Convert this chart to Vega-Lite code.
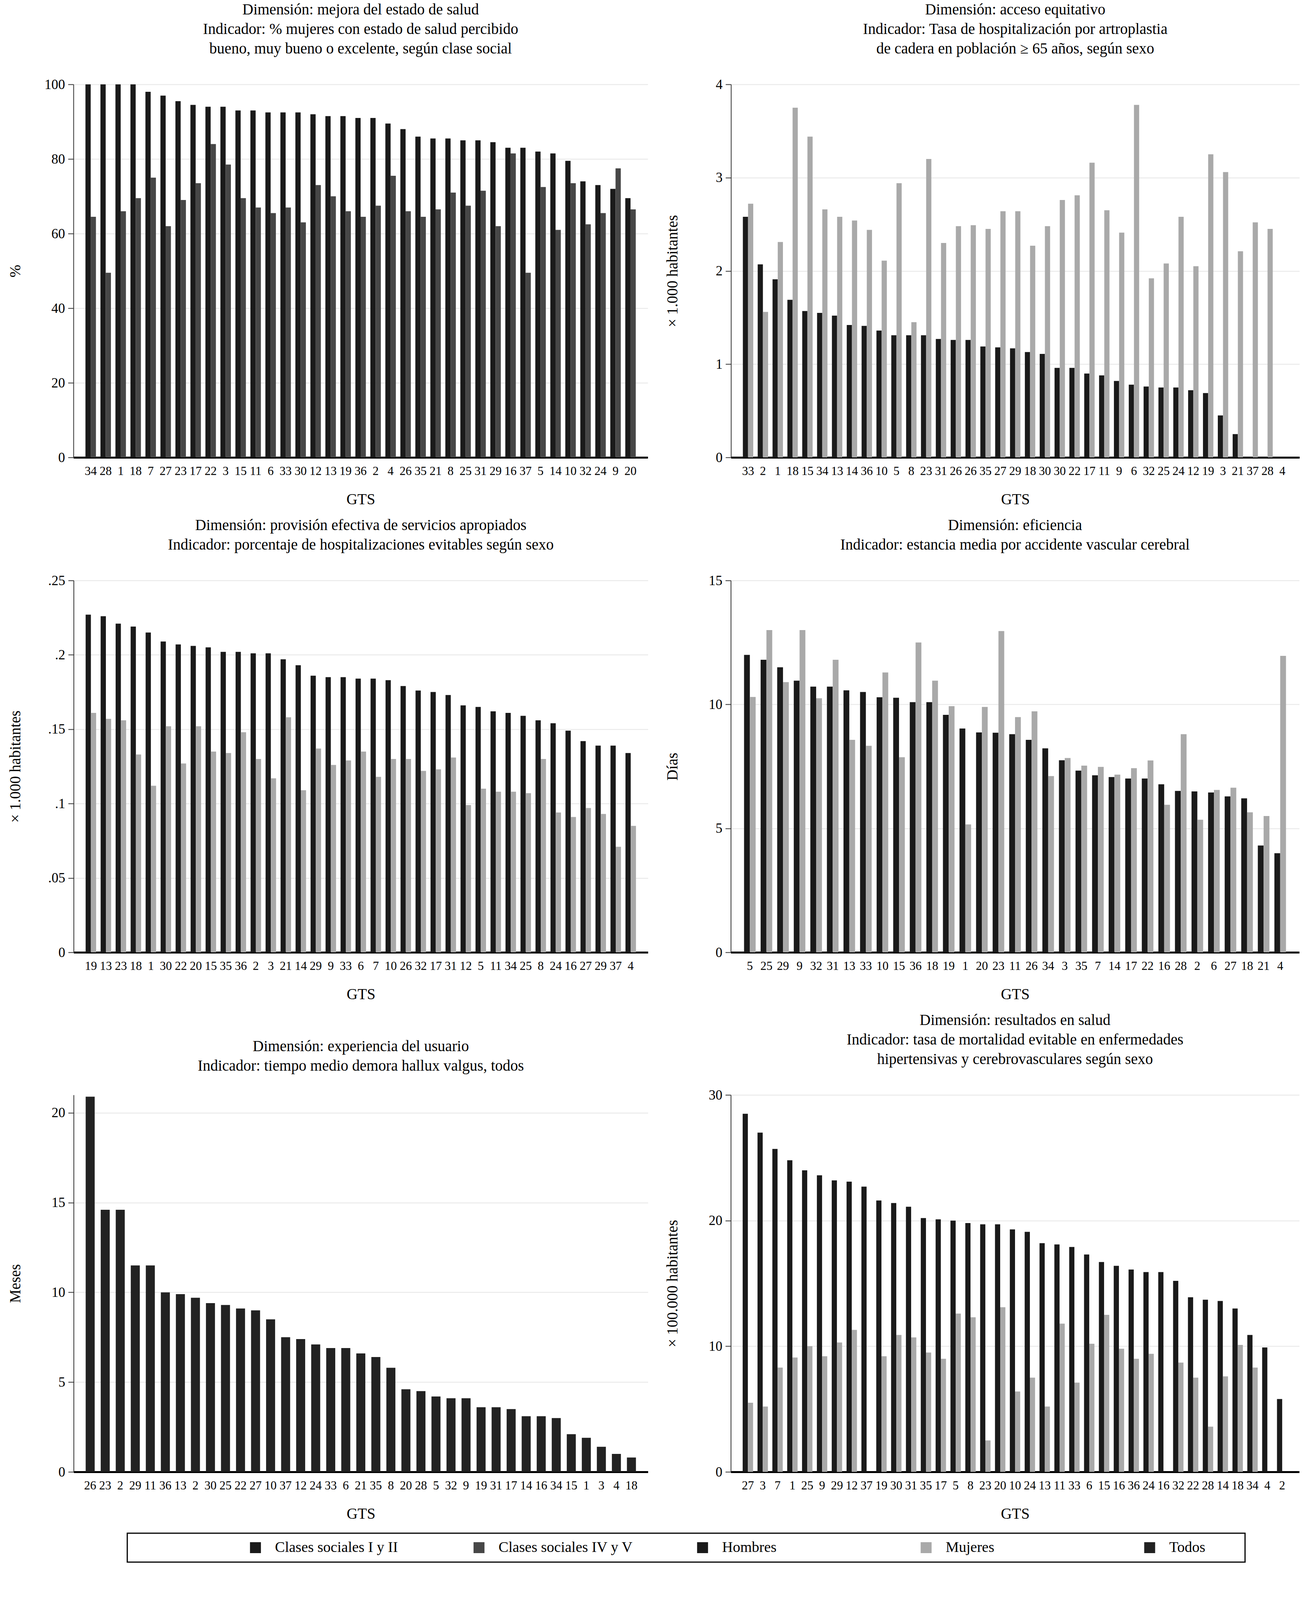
{
  "$schema": "https://vega.github.io/schema/vega-lite/v6.json",
  "background": "#ffffff",
  "padding": {"left": 20, "top": 6, "right": 10, "bottom": 10},
  "datasets": {
    "leg": [
      {"s": "Clases sociales I y II"}, {"s": "Clases sociales IV y V"}, {"s": "Hombres"}, {"s": "Mujeres"}, {"s": "Todos"}
    ],
    "p1": [
      {"k": "01|34", "s": "Clases sociales I y II", "v": 100}, {"k": "01|34", "s": "Clases sociales IV y V", "v": 64.5},
      {"k": "02|28", "s": "Clases sociales I y II", "v": 100}, {"k": "02|28", "s": "Clases sociales IV y V", "v": 49.5},
      {"k": "03|1", "s": "Clases sociales I y II", "v": 100}, {"k": "03|1", "s": "Clases sociales IV y V", "v": 66},
      {"k": "04|18", "s": "Clases sociales I y II", "v": 100}, {"k": "04|18", "s": "Clases sociales IV y V", "v": 69.5},
      {"k": "05|7", "s": "Clases sociales I y II", "v": 98}, {"k": "05|7", "s": "Clases sociales IV y V", "v": 75},
      {"k": "06|27", "s": "Clases sociales I y II", "v": 97}, {"k": "06|27", "s": "Clases sociales IV y V", "v": 62},
      {"k": "07|23", "s": "Clases sociales I y II", "v": 95.5}, {"k": "07|23", "s": "Clases sociales IV y V", "v": 69},
      {"k": "08|17", "s": "Clases sociales I y II", "v": 94.5}, {"k": "08|17", "s": "Clases sociales IV y V", "v": 73.5},
      {"k": "09|22", "s": "Clases sociales I y II", "v": 94}, {"k": "09|22", "s": "Clases sociales IV y V", "v": 84},
      {"k": "10|3", "s": "Clases sociales I y II", "v": 94}, {"k": "10|3", "s": "Clases sociales IV y V", "v": 78.5},
      {"k": "11|15", "s": "Clases sociales I y II", "v": 93}, {"k": "11|15", "s": "Clases sociales IV y V", "v": 69.5},
      {"k": "12|11", "s": "Clases sociales I y II", "v": 93}, {"k": "12|11", "s": "Clases sociales IV y V", "v": 67},
      {"k": "13|6", "s": "Clases sociales I y II", "v": 92.5}, {"k": "13|6", "s": "Clases sociales IV y V", "v": 65.5},
      {"k": "14|33", "s": "Clases sociales I y II", "v": 92.5}, {"k": "14|33", "s": "Clases sociales IV y V", "v": 67},
      {"k": "15|30", "s": "Clases sociales I y II", "v": 92.5}, {"k": "15|30", "s": "Clases sociales IV y V", "v": 63},
      {"k": "16|12", "s": "Clases sociales I y II", "v": 92}, {"k": "16|12", "s": "Clases sociales IV y V", "v": 73},
      {"k": "17|13", "s": "Clases sociales I y II", "v": 91.5}, {"k": "17|13", "s": "Clases sociales IV y V", "v": 70},
      {"k": "18|19", "s": "Clases sociales I y II", "v": 91.5}, {"k": "18|19", "s": "Clases sociales IV y V", "v": 66},
      {"k": "19|36", "s": "Clases sociales I y II", "v": 91}, {"k": "19|36", "s": "Clases sociales IV y V", "v": 64.5},
      {"k": "20|2", "s": "Clases sociales I y II", "v": 91}, {"k": "20|2", "s": "Clases sociales IV y V", "v": 67.5},
      {"k": "21|4", "s": "Clases sociales I y II", "v": 89.5}, {"k": "21|4", "s": "Clases sociales IV y V", "v": 75.5},
      {"k": "22|26", "s": "Clases sociales I y II", "v": 88}, {"k": "22|26", "s": "Clases sociales IV y V", "v": 66},
      {"k": "23|35", "s": "Clases sociales I y II", "v": 86}, {"k": "23|35", "s": "Clases sociales IV y V", "v": 64.5},
      {"k": "24|21", "s": "Clases sociales I y II", "v": 85.5}, {"k": "24|21", "s": "Clases sociales IV y V", "v": 66.5},
      {"k": "25|8", "s": "Clases sociales I y II", "v": 85.5}, {"k": "25|8", "s": "Clases sociales IV y V", "v": 71},
      {"k": "26|25", "s": "Clases sociales I y II", "v": 85}, {"k": "26|25", "s": "Clases sociales IV y V", "v": 67.5},
      {"k": "27|31", "s": "Clases sociales I y II", "v": 85}, {"k": "27|31", "s": "Clases sociales IV y V", "v": 71.5},
      {"k": "28|29", "s": "Clases sociales I y II", "v": 84.5}, {"k": "28|29", "s": "Clases sociales IV y V", "v": 62},
      {"k": "29|16", "s": "Clases sociales I y II", "v": 83}, {"k": "29|16", "s": "Clases sociales IV y V", "v": 81.5},
      {"k": "30|37", "s": "Clases sociales I y II", "v": 83}, {"k": "30|37", "s": "Clases sociales IV y V", "v": 49.5},
      {"k": "31|5", "s": "Clases sociales I y II", "v": 82}, {"k": "31|5", "s": "Clases sociales IV y V", "v": 72.5},
      {"k": "32|14", "s": "Clases sociales I y II", "v": 81.5}, {"k": "32|14", "s": "Clases sociales IV y V", "v": 61},
      {"k": "33|10", "s": "Clases sociales I y II", "v": 79.5}, {"k": "33|10", "s": "Clases sociales IV y V", "v": 73.5},
      {"k": "34|32", "s": "Clases sociales I y II", "v": 74}, {"k": "34|32", "s": "Clases sociales IV y V", "v": 62.5},
      {"k": "35|24", "s": "Clases sociales I y II", "v": 73}, {"k": "35|24", "s": "Clases sociales IV y V", "v": 65.5},
      {"k": "36|9", "s": "Clases sociales I y II", "v": 72}, {"k": "36|9", "s": "Clases sociales IV y V", "v": 77.5},
      {"k": "37|20", "s": "Clases sociales I y II", "v": 69.5}, {"k": "37|20", "s": "Clases sociales IV y V", "v": 66.5}
    ],
    "p2": [
      {"k": "01|33", "s": "Hombres", "v": 2.58}, {"k": "01|33", "s": "Mujeres", "v": 2.72},
      {"k": "02|2", "s": "Hombres", "v": 2.07}, {"k": "02|2", "s": "Mujeres", "v": 1.56},
      {"k": "03|1", "s": "Hombres", "v": 1.91}, {"k": "03|1", "s": "Mujeres", "v": 2.31},
      {"k": "04|18", "s": "Hombres", "v": 1.69}, {"k": "04|18", "s": "Mujeres", "v": 3.75},
      {"k": "05|15", "s": "Hombres", "v": 1.57}, {"k": "05|15", "s": "Mujeres", "v": 3.44},
      {"k": "06|34", "s": "Hombres", "v": 1.55}, {"k": "06|34", "s": "Mujeres", "v": 2.66},
      {"k": "07|13", "s": "Hombres", "v": 1.52}, {"k": "07|13", "s": "Mujeres", "v": 2.58},
      {"k": "08|14", "s": "Hombres", "v": 1.42}, {"k": "08|14", "s": "Mujeres", "v": 2.54},
      {"k": "09|36", "s": "Hombres", "v": 1.41}, {"k": "09|36", "s": "Mujeres", "v": 2.44},
      {"k": "10|10", "s": "Hombres", "v": 1.36}, {"k": "10|10", "s": "Mujeres", "v": 2.11},
      {"k": "11|5", "s": "Hombres", "v": 1.31}, {"k": "11|5", "s": "Mujeres", "v": 2.94},
      {"k": "12|8", "s": "Hombres", "v": 1.31}, {"k": "12|8", "s": "Mujeres", "v": 1.45},
      {"k": "13|23", "s": "Hombres", "v": 1.31}, {"k": "13|23", "s": "Mujeres", "v": 3.2},
      {"k": "14|31", "s": "Hombres", "v": 1.27}, {"k": "14|31", "s": "Mujeres", "v": 2.3},
      {"k": "15|26", "s": "Hombres", "v": 1.26}, {"k": "15|26", "s": "Mujeres", "v": 2.48},
      {"k": "16|26", "s": "Hombres", "v": 1.26}, {"k": "16|26", "s": "Mujeres", "v": 2.49},
      {"k": "17|35", "s": "Hombres", "v": 1.19}, {"k": "17|35", "s": "Mujeres", "v": 2.45},
      {"k": "18|27", "s": "Hombres", "v": 1.18}, {"k": "18|27", "s": "Mujeres", "v": 2.64},
      {"k": "19|29", "s": "Hombres", "v": 1.17}, {"k": "19|29", "s": "Mujeres", "v": 2.64},
      {"k": "20|18", "s": "Hombres", "v": 1.13}, {"k": "20|18", "s": "Mujeres", "v": 2.27},
      {"k": "21|30", "s": "Hombres", "v": 1.11}, {"k": "21|30", "s": "Mujeres", "v": 2.48},
      {"k": "22|30", "s": "Hombres", "v": 0.96}, {"k": "22|30", "s": "Mujeres", "v": 2.76},
      {"k": "23|22", "s": "Hombres", "v": 0.96}, {"k": "23|22", "s": "Mujeres", "v": 2.81},
      {"k": "24|17", "s": "Hombres", "v": 0.9}, {"k": "24|17", "s": "Mujeres", "v": 3.16},
      {"k": "25|11", "s": "Hombres", "v": 0.88}, {"k": "25|11", "s": "Mujeres", "v": 2.65},
      {"k": "26|9", "s": "Hombres", "v": 0.82}, {"k": "26|9", "s": "Mujeres", "v": 2.41},
      {"k": "27|6", "s": "Hombres", "v": 0.78}, {"k": "27|6", "s": "Mujeres", "v": 3.78},
      {"k": "28|32", "s": "Hombres", "v": 0.76}, {"k": "28|32", "s": "Mujeres", "v": 1.92},
      {"k": "29|25", "s": "Hombres", "v": 0.75}, {"k": "29|25", "s": "Mujeres", "v": 2.08},
      {"k": "30|24", "s": "Hombres", "v": 0.75}, {"k": "30|24", "s": "Mujeres", "v": 2.58},
      {"k": "31|12", "s": "Hombres", "v": 0.72}, {"k": "31|12", "s": "Mujeres", "v": 2.05},
      {"k": "32|19", "s": "Hombres", "v": 0.69}, {"k": "32|19", "s": "Mujeres", "v": 3.25},
      {"k": "33|3", "s": "Hombres", "v": 0.45}, {"k": "33|3", "s": "Mujeres", "v": 3.06},
      {"k": "34|21", "s": "Hombres", "v": 0.25}, {"k": "34|21", "s": "Mujeres", "v": 2.21},
      {"k": "35|37", "s": "Hombres", "v": null}, {"k": "35|37", "s": "Mujeres", "v": 2.52},
      {"k": "36|28", "s": "Hombres", "v": null}, {"k": "36|28", "s": "Mujeres", "v": 2.45},
      {"k": "37|4", "s": "Hombres", "v": null}, {"k": "37|4", "s": "Mujeres", "v": null}
    ],
    "p3": [
      {"k": "01|19", "s": "Hombres", "v": 0.227}, {"k": "01|19", "s": "Mujeres", "v": 0.161},
      {"k": "02|13", "s": "Hombres", "v": 0.226}, {"k": "02|13", "s": "Mujeres", "v": 0.157},
      {"k": "03|23", "s": "Hombres", "v": 0.221}, {"k": "03|23", "s": "Mujeres", "v": 0.156},
      {"k": "04|18", "s": "Hombres", "v": 0.219}, {"k": "04|18", "s": "Mujeres", "v": 0.133},
      {"k": "05|1", "s": "Hombres", "v": 0.215}, {"k": "05|1", "s": "Mujeres", "v": 0.112},
      {"k": "06|30", "s": "Hombres", "v": 0.209}, {"k": "06|30", "s": "Mujeres", "v": 0.152},
      {"k": "07|22", "s": "Hombres", "v": 0.207}, {"k": "07|22", "s": "Mujeres", "v": 0.127},
      {"k": "08|20", "s": "Hombres", "v": 0.206}, {"k": "08|20", "s": "Mujeres", "v": 0.152},
      {"k": "09|15", "s": "Hombres", "v": 0.205}, {"k": "09|15", "s": "Mujeres", "v": 0.135},
      {"k": "10|35", "s": "Hombres", "v": 0.202}, {"k": "10|35", "s": "Mujeres", "v": 0.134},
      {"k": "11|36", "s": "Hombres", "v": 0.202}, {"k": "11|36", "s": "Mujeres", "v": 0.148},
      {"k": "12|2", "s": "Hombres", "v": 0.201}, {"k": "12|2", "s": "Mujeres", "v": 0.13},
      {"k": "13|3", "s": "Hombres", "v": 0.201}, {"k": "13|3", "s": "Mujeres", "v": 0.117},
      {"k": "14|21", "s": "Hombres", "v": 0.197}, {"k": "14|21", "s": "Mujeres", "v": 0.158},
      {"k": "15|14", "s": "Hombres", "v": 0.193}, {"k": "15|14", "s": "Mujeres", "v": 0.109},
      {"k": "16|29", "s": "Hombres", "v": 0.186}, {"k": "16|29", "s": "Mujeres", "v": 0.137},
      {"k": "17|9", "s": "Hombres", "v": 0.185}, {"k": "17|9", "s": "Mujeres", "v": 0.126},
      {"k": "18|33", "s": "Hombres", "v": 0.185}, {"k": "18|33", "s": "Mujeres", "v": 0.129},
      {"k": "19|6", "s": "Hombres", "v": 0.184}, {"k": "19|6", "s": "Mujeres", "v": 0.135},
      {"k": "20|7", "s": "Hombres", "v": 0.184}, {"k": "20|7", "s": "Mujeres", "v": 0.118},
      {"k": "21|10", "s": "Hombres", "v": 0.183}, {"k": "21|10", "s": "Mujeres", "v": 0.13},
      {"k": "22|26", "s": "Hombres", "v": 0.179}, {"k": "22|26", "s": "Mujeres", "v": 0.13},
      {"k": "23|32", "s": "Hombres", "v": 0.176}, {"k": "23|32", "s": "Mujeres", "v": 0.122},
      {"k": "24|17", "s": "Hombres", "v": 0.175}, {"k": "24|17", "s": "Mujeres", "v": 0.123},
      {"k": "25|31", "s": "Hombres", "v": 0.173}, {"k": "25|31", "s": "Mujeres", "v": 0.131},
      {"k": "26|12", "s": "Hombres", "v": 0.166}, {"k": "26|12", "s": "Mujeres", "v": 0.099},
      {"k": "27|5", "s": "Hombres", "v": 0.165}, {"k": "27|5", "s": "Mujeres", "v": 0.11},
      {"k": "28|11", "s": "Hombres", "v": 0.162}, {"k": "28|11", "s": "Mujeres", "v": 0.108},
      {"k": "29|34", "s": "Hombres", "v": 0.161}, {"k": "29|34", "s": "Mujeres", "v": 0.108},
      {"k": "30|25", "s": "Hombres", "v": 0.159}, {"k": "30|25", "s": "Mujeres", "v": 0.107},
      {"k": "31|8", "s": "Hombres", "v": 0.156}, {"k": "31|8", "s": "Mujeres", "v": 0.13},
      {"k": "32|24", "s": "Hombres", "v": 0.154}, {"k": "32|24", "s": "Mujeres", "v": 0.094},
      {"k": "33|16", "s": "Hombres", "v": 0.149}, {"k": "33|16", "s": "Mujeres", "v": 0.091},
      {"k": "34|27", "s": "Hombres", "v": 0.142}, {"k": "34|27", "s": "Mujeres", "v": 0.097},
      {"k": "35|29", "s": "Hombres", "v": 0.139}, {"k": "35|29", "s": "Mujeres", "v": 0.093},
      {"k": "36|37", "s": "Hombres", "v": 0.139}, {"k": "36|37", "s": "Mujeres", "v": 0.071},
      {"k": "37|4", "s": "Hombres", "v": 0.134}, {"k": "37|4", "s": "Mujeres", "v": 0.085}
    ],
    "p4": [
      {"k": "01|5", "s": "Hombres", "v": 12.0}, {"k": "01|5", "s": "Mujeres", "v": 10.3},
      {"k": "02|25", "s": "Hombres", "v": 11.8}, {"k": "02|25", "s": "Mujeres", "v": 13.0},
      {"k": "03|29", "s": "Hombres", "v": 11.5}, {"k": "03|29", "s": "Mujeres", "v": 10.9},
      {"k": "04|9", "s": "Hombres", "v": 10.96}, {"k": "04|9", "s": "Mujeres", "v": 13.0},
      {"k": "05|32", "s": "Hombres", "v": 10.72}, {"k": "05|32", "s": "Mujeres", "v": 10.25},
      {"k": "06|31", "s": "Hombres", "v": 10.72}, {"k": "06|31", "s": "Mujeres", "v": 11.8},
      {"k": "07|13", "s": "Hombres", "v": 10.57}, {"k": "07|13", "s": "Mujeres", "v": 8.57},
      {"k": "08|33", "s": "Hombres", "v": 10.5}, {"k": "08|33", "s": "Mujeres", "v": 8.33},
      {"k": "09|10", "s": "Hombres", "v": 10.29}, {"k": "09|10", "s": "Mujeres", "v": 11.29},
      {"k": "10|15", "s": "Hombres", "v": 10.27}, {"k": "10|15", "s": "Mujeres", "v": 7.87},
      {"k": "11|36", "s": "Hombres", "v": 10.09}, {"k": "11|36", "s": "Mujeres", "v": 12.5},
      {"k": "12|18", "s": "Hombres", "v": 10.09}, {"k": "12|18", "s": "Mujeres", "v": 10.96},
      {"k": "13|19", "s": "Hombres", "v": 9.58}, {"k": "13|19", "s": "Mujeres", "v": 9.93},
      {"k": "14|1", "s": "Hombres", "v": 9.03}, {"k": "14|1", "s": "Mujeres", "v": 5.16},
      {"k": "15|20", "s": "Hombres", "v": 8.87}, {"k": "15|20", "s": "Mujeres", "v": 9.9},
      {"k": "16|23", "s": "Hombres", "v": 8.86}, {"k": "16|23", "s": "Mujeres", "v": 12.96},
      {"k": "17|11", "s": "Hombres", "v": 8.8}, {"k": "17|11", "s": "Mujeres", "v": 9.49},
      {"k": "18|26", "s": "Hombres", "v": 8.57}, {"k": "18|26", "s": "Mujeres", "v": 9.72},
      {"k": "19|34", "s": "Hombres", "v": 8.23}, {"k": "19|34", "s": "Mujeres", "v": 7.11},
      {"k": "20|3", "s": "Hombres", "v": 7.75}, {"k": "20|3", "s": "Mujeres", "v": 7.84},
      {"k": "21|35", "s": "Hombres", "v": 7.33}, {"k": "21|35", "s": "Mujeres", "v": 7.53},
      {"k": "22|7", "s": "Hombres", "v": 7.14}, {"k": "22|7", "s": "Mujeres", "v": 7.48},
      {"k": "23|14", "s": "Hombres", "v": 7.07}, {"k": "23|14", "s": "Mujeres", "v": 7.17},
      {"k": "24|17", "s": "Hombres", "v": 7.01}, {"k": "24|17", "s": "Mujeres", "v": 7.43},
      {"k": "25|22", "s": "Hombres", "v": 7.01}, {"k": "25|22", "s": "Mujeres", "v": 7.74},
      {"k": "26|16", "s": "Hombres", "v": 6.78}, {"k": "26|16", "s": "Mujeres", "v": 5.95},
      {"k": "27|28", "s": "Hombres", "v": 6.51}, {"k": "27|28", "s": "Mujeres", "v": 8.8},
      {"k": "28|2", "s": "Hombres", "v": 6.49}, {"k": "28|2", "s": "Mujeres", "v": 5.35},
      {"k": "29|6", "s": "Hombres", "v": 6.45}, {"k": "29|6", "s": "Mujeres", "v": 6.55},
      {"k": "30|27", "s": "Hombres", "v": 6.29}, {"k": "30|27", "s": "Mujeres", "v": 6.64},
      {"k": "31|18", "s": "Hombres", "v": 6.21}, {"k": "31|18", "s": "Mujeres", "v": 5.65},
      {"k": "32|21", "s": "Hombres", "v": 4.31}, {"k": "32|21", "s": "Mujeres", "v": 5.5},
      {"k": "33|4", "s": "Hombres", "v": 4.0}, {"k": "33|4", "s": "Mujeres", "v": 11.96}
    ],
    "p5": [
      {"k": "01|26", "s": "Todos", "v": 20.9}, {"k": "02|23", "s": "Todos", "v": 14.6},
      {"k": "03|2", "s": "Todos", "v": 14.6}, {"k": "04|29", "s": "Todos", "v": 11.5},
      {"k": "05|11", "s": "Todos", "v": 11.5}, {"k": "06|36", "s": "Todos", "v": 10.0},
      {"k": "07|13", "s": "Todos", "v": 9.9}, {"k": "08|2", "s": "Todos", "v": 9.7},
      {"k": "09|30", "s": "Todos", "v": 9.4}, {"k": "10|25", "s": "Todos", "v": 9.3},
      {"k": "11|22", "s": "Todos", "v": 9.1}, {"k": "12|27", "s": "Todos", "v": 9.0},
      {"k": "13|10", "s": "Todos", "v": 8.5}, {"k": "14|37", "s": "Todos", "v": 7.5},
      {"k": "15|12", "s": "Todos", "v": 7.4}, {"k": "16|24", "s": "Todos", "v": 7.1},
      {"k": "17|33", "s": "Todos", "v": 6.9}, {"k": "18|6", "s": "Todos", "v": 6.9},
      {"k": "19|21", "s": "Todos", "v": 6.6}, {"k": "20|35", "s": "Todos", "v": 6.4},
      {"k": "21|8", "s": "Todos", "v": 5.8}, {"k": "22|20", "s": "Todos", "v": 4.6},
      {"k": "23|28", "s": "Todos", "v": 4.5}, {"k": "24|5", "s": "Todos", "v": 4.2},
      {"k": "25|32", "s": "Todos", "v": 4.1}, {"k": "26|9", "s": "Todos", "v": 4.1},
      {"k": "27|19", "s": "Todos", "v": 3.6}, {"k": "28|31", "s": "Todos", "v": 3.6},
      {"k": "29|17", "s": "Todos", "v": 3.5}, {"k": "30|14", "s": "Todos", "v": 3.1},
      {"k": "31|16", "s": "Todos", "v": 3.1}, {"k": "32|34", "s": "Todos", "v": 3.0},
      {"k": "33|15", "s": "Todos", "v": 2.1}, {"k": "34|1", "s": "Todos", "v": 1.9},
      {"k": "35|3", "s": "Todos", "v": 1.4}, {"k": "36|4", "s": "Todos", "v": 1.0},
      {"k": "37|18", "s": "Todos", "v": 0.8}
    ],
    "p6": [
      {"k": "01|27", "s": "Hombres", "v": 28.5}, {"k": "01|27", "s": "Mujeres", "v": 5.5},
      {"k": "02|3", "s": "Hombres", "v": 27.0}, {"k": "02|3", "s": "Mujeres", "v": 5.2},
      {"k": "03|7", "s": "Hombres", "v": 25.7}, {"k": "03|7", "s": "Mujeres", "v": 8.3},
      {"k": "04|1", "s": "Hombres", "v": 24.8}, {"k": "04|1", "s": "Mujeres", "v": 9.1},
      {"k": "05|25", "s": "Hombres", "v": 24.0}, {"k": "05|25", "s": "Mujeres", "v": 10.0},
      {"k": "06|9", "s": "Hombres", "v": 23.6}, {"k": "06|9", "s": "Mujeres", "v": 9.2},
      {"k": "07|29", "s": "Hombres", "v": 23.2}, {"k": "07|29", "s": "Mujeres", "v": 10.3},
      {"k": "08|12", "s": "Hombres", "v": 23.1}, {"k": "08|12", "s": "Mujeres", "v": 11.3},
      {"k": "09|37", "s": "Hombres", "v": 22.7}, {"k": "09|37", "s": "Mujeres", "v": null},
      {"k": "10|19", "s": "Hombres", "v": 21.6}, {"k": "10|19", "s": "Mujeres", "v": 9.2},
      {"k": "11|30", "s": "Hombres", "v": 21.4}, {"k": "11|30", "s": "Mujeres", "v": 10.9},
      {"k": "12|31", "s": "Hombres", "v": 21.1}, {"k": "12|31", "s": "Mujeres", "v": 10.7},
      {"k": "13|35", "s": "Hombres", "v": 20.2}, {"k": "13|35", "s": "Mujeres", "v": 9.5},
      {"k": "14|17", "s": "Hombres", "v": 20.1}, {"k": "14|17", "s": "Mujeres", "v": 9.0},
      {"k": "15|5", "s": "Hombres", "v": 20.0}, {"k": "15|5", "s": "Mujeres", "v": 12.6},
      {"k": "16|8", "s": "Hombres", "v": 19.8}, {"k": "16|8", "s": "Mujeres", "v": 12.3},
      {"k": "17|23", "s": "Hombres", "v": 19.7}, {"k": "17|23", "s": "Mujeres", "v": 2.5},
      {"k": "18|20", "s": "Hombres", "v": 19.7}, {"k": "18|20", "s": "Mujeres", "v": 13.1},
      {"k": "19|10", "s": "Hombres", "v": 19.3}, {"k": "19|10", "s": "Mujeres", "v": 6.4},
      {"k": "20|24", "s": "Hombres", "v": 19.1}, {"k": "20|24", "s": "Mujeres", "v": 7.5},
      {"k": "21|13", "s": "Hombres", "v": 18.2}, {"k": "21|13", "s": "Mujeres", "v": 5.2},
      {"k": "22|11", "s": "Hombres", "v": 18.1}, {"k": "22|11", "s": "Mujeres", "v": 11.8},
      {"k": "23|33", "s": "Hombres", "v": 17.9}, {"k": "23|33", "s": "Mujeres", "v": 7.1},
      {"k": "24|6", "s": "Hombres", "v": 17.3}, {"k": "24|6", "s": "Mujeres", "v": 10.2},
      {"k": "25|15", "s": "Hombres", "v": 16.7}, {"k": "25|15", "s": "Mujeres", "v": 12.5},
      {"k": "26|16", "s": "Hombres", "v": 16.4}, {"k": "26|16", "s": "Mujeres", "v": 9.8},
      {"k": "27|36", "s": "Hombres", "v": 16.1}, {"k": "27|36", "s": "Mujeres", "v": 9.0},
      {"k": "28|24", "s": "Hombres", "v": 15.9}, {"k": "28|24", "s": "Mujeres", "v": 9.4},
      {"k": "29|16", "s": "Hombres", "v": 15.9}, {"k": "29|16", "s": "Mujeres", "v": null},
      {"k": "30|32", "s": "Hombres", "v": 15.2}, {"k": "30|32", "s": "Mujeres", "v": 8.7},
      {"k": "31|22", "s": "Hombres", "v": 13.9}, {"k": "31|22", "s": "Mujeres", "v": 7.5},
      {"k": "32|28", "s": "Hombres", "v": 13.7}, {"k": "32|28", "s": "Mujeres", "v": 3.6},
      {"k": "33|14", "s": "Hombres", "v": 13.6}, {"k": "33|14", "s": "Mujeres", "v": 7.6},
      {"k": "34|18", "s": "Hombres", "v": 13.0}, {"k": "34|18", "s": "Mujeres", "v": 10.1},
      {"k": "35|34", "s": "Hombres", "v": 10.9}, {"k": "35|34", "s": "Mujeres", "v": 8.3},
      {"k": "36|4", "s": "Hombres", "v": 9.9}, {"k": "36|4", "s": "Mujeres", "v": null},
      {"k": "37|2", "s": "Hombres", "v": 5.8}, {"k": "37|2", "s": "Mujeres", "v": null}
    ]
  },
  "vconcat": [
    {
      "hconcat": [
        {
          "title": {"text": ["Dimensión: mejora del estado de salud", "Indicador: % mujeres con estado de salud percibido", "bueno, muy bueno o excelente, según clase social"]},
          "width": 1470, "height": 955,
          "data": {"name": "p1"},
          "mark": {"type": "bar"},
          "encoding": {
            "x": {"field": "k", "type": "ordinal", "title": "GTS", "scale": {"paddingInner": 0.3, "paddingOuter": 0.8}, "axis": {"labelExpr": "split(datum.label, '|')[1]"}},
            "xOffset": {"field": "s", "type": "nominal", "scale": {"domain": ["Clases sociales I y II", "Clases sociales IV y V"], "paddingInner": 0, "paddingOuter": 0}},
            "y": {"field": "v", "type": "quantitative", "stack": null, "title": "%", "scale": {"domain": [0, 100], "nice": false}, "axis": {"values": [0, 20, 40, 60, 80, 100], "titlePadding": 54}},
            "color": {"field": "s", "type": "nominal", "scale": {"domain": ["Clases sociales I y II", "Clases sociales IV y V", "Hombres", "Mujeres", "Todos"], "range": ["#1a1a1a", "#474747", "#1a1a1a", "#a9a9a9", "#222222"]}, "legend": null}
          }
        },
        {
          "title": {"text": ["Dimensión: acceso equitativo", "Indicador: Tasa de hospitalización por artroplastia", "de cadera en población ≥ 65 años, según sexo"]},
          "width": 1455, "height": 955,
          "data": {"name": "p2"},
          "mark": {"type": "bar"},
          "encoding": {
            "x": {"field": "k", "type": "ordinal", "title": "GTS", "scale": {"paddingInner": 0.3, "paddingOuter": 0.8, "domain": ["01|33", "02|2", "03|1", "04|18", "05|15", "06|34", "07|13", "08|14", "09|36", "10|10", "11|5", "12|8", "13|23", "14|31", "15|26", "16|26", "17|35", "18|27", "19|29", "20|18", "21|30", "22|30", "23|22", "24|17", "25|11", "26|9", "27|6", "28|32", "29|25", "30|24", "31|12", "32|19", "33|3", "34|21", "35|37", "36|28", "37|4"]}, "axis": {"labelExpr": "split(datum.label, '|')[1]"}},
            "xOffset": {"field": "s", "type": "nominal", "scale": {"domain": ["Hombres", "Mujeres"], "paddingInner": 0, "paddingOuter": 0}},
            "y": {"field": "v", "type": "quantitative", "stack": null, "title": "× 1.000 habitantes", "scale": {"domain": [0, 4], "nice": false}, "axis": {"values": [0, 1, 2, 3, 4], "titlePadding": 90}},
            "color": {"field": "s", "type": "nominal", "scale": {"domain": ["Clases sociales I y II", "Clases sociales IV y V", "Hombres", "Mujeres", "Todos"], "range": ["#1a1a1a", "#474747", "#1a1a1a", "#a9a9a9", "#222222"]}, "legend": null}
          }
        }
      ],
      "spacing": 44,
      "resolve": {"scale": {"xOffset": "independent"}}
    },
    {
      "hconcat": [
        {
          "title": {"text": ["Dimensión: provisión efectiva de servicios apropiados", "Indicador: porcentaje de hospitalizaciones evitables según sexo"]},
          "width": 1470, "height": 952,
          "data": {"name": "p3"},
          "mark": {"type": "bar"},
          "encoding": {
            "x": {"field": "k", "type": "ordinal", "title": "GTS", "scale": {"paddingInner": 0.3, "paddingOuter": 0.8}, "axis": {"labelExpr": "split(datum.label, '|')[1]"}},
            "xOffset": {"field": "s", "type": "nominal", "scale": {"domain": ["Hombres", "Mujeres"], "paddingInner": 0, "paddingOuter": 0}},
            "y": {"field": "v", "type": "quantitative", "stack": null, "title": "× 1.000 habitantes", "scale": {"domain": [0, 0.25], "nice": false}, "axis": {"values": [0, 0.05, 0.1, 0.15, 0.2, 0.25], "labelExpr": "datum.value == 0 ? '0' : substring(format(datum.value, '.2~f'), 1)", "titlePadding": 63}},
            "color": {"field": "s", "type": "nominal", "scale": {"domain": ["Clases sociales I y II", "Clases sociales IV y V", "Hombres", "Mujeres", "Todos"], "range": ["#1a1a1a", "#474747", "#1a1a1a", "#a9a9a9", "#222222"]}, "legend": null}
          }
        },
        {
          "title": {"text": ["Dimensión: eficiencia", "Indicador: estancia media por accidente vascular cerebral"]},
          "width": 1455, "height": 952,
          "data": {"name": "p4"},
          "mark": {"type": "bar"},
          "encoding": {
            "x": {"field": "k", "type": "ordinal", "title": "GTS", "scale": {"paddingInner": 0.3, "paddingOuter": 0.8}, "axis": {"labelExpr": "split(datum.label, '|')[1]"}},
            "xOffset": {"field": "s", "type": "nominal", "scale": {"domain": ["Hombres", "Mujeres"], "paddingInner": 0, "paddingOuter": 0}},
            "y": {"field": "v", "type": "quantitative", "stack": null, "title": "Días", "scale": {"domain": [0, 15], "nice": false}, "axis": {"values": [0, 5, 10, 15], "titlePadding": 72}},
            "color": {"field": "s", "type": "nominal", "scale": {"domain": ["Clases sociales I y II", "Clases sociales IV y V", "Hombres", "Mujeres", "Todos"], "range": ["#1a1a1a", "#474747", "#1a1a1a", "#a9a9a9", "#222222"]}, "legend": null}
          }
        }
      ],
      "spacing": 44,
      "resolve": {"scale": {"xOffset": "independent"}}
    },
    {
      "hconcat": [
        {
          "title": {"text": ["", "Dimensión: experiencia del usuario", "Indicador: tiempo medio demora hallux valgus, todos"]},
          "width": 1470, "height": 965,
          "data": {"name": "p5"},
          "mark": {"type": "bar"},
          "encoding": {
            "x": {"field": "k", "type": "ordinal", "title": "GTS", "scale": {"paddingInner": 0.4, "paddingOuter": 0.8}, "axis": {"labelExpr": "split(datum.label, '|')[1]"}},
            "y": {"field": "v", "type": "quantitative", "stack": null, "title": "Meses", "scale": {"domain": [0, 21], "nice": false}, "axis": {"values": [0, 5, 10, 15, 20], "titlePadding": 72}},
            "color": {"field": "s", "type": "nominal", "scale": {"domain": ["Clases sociales I y II", "Clases sociales IV y V", "Hombres", "Mujeres", "Todos"], "range": ["#1a1a1a", "#474747", "#1a1a1a", "#a9a9a9", "#222222"]}, "legend": null}
          }
        },
        {
          "title": {"text": ["Dimensión: resultados en salud", "Indicador: tasa de mortalidad evitable en enfermedades", "hipertensivas y cerebrovasculares según sexo"]},
          "width": 1455, "height": 965,
          "data": {"name": "p6"},
          "mark": {"type": "bar"},
          "encoding": {
            "x": {"field": "k", "type": "ordinal", "title": "GTS", "scale": {"paddingInner": 0.3, "paddingOuter": 0.8}, "axis": {"labelExpr": "split(datum.label, '|')[1]"}},
            "xOffset": {"field": "s", "type": "nominal", "scale": {"domain": ["Hombres", "Mujeres"], "paddingInner": 0, "paddingOuter": 0}},
            "y": {"field": "v", "type": "quantitative", "stack": null, "title": "× 100.000 habitantes", "scale": {"domain": [0, 30], "nice": false}, "axis": {"values": [0, 10, 20, 30], "titlePadding": 72}},
            "color": {"field": "s", "type": "nominal", "scale": {"domain": ["Clases sociales I y II", "Clases sociales IV y V", "Hombres", "Mujeres", "Todos"], "range": ["#1a1a1a", "#474747", "#1a1a1a", "#a9a9a9", "#222222"]}, "legend": null}
          }
        }
      ],
      "spacing": 44,
      "resolve": {"scale": {"xOffset": "independent"}}
    },
    {
      "width": 2861, "height": 74,
      "data": {"name": "leg"},
      "view": {"stroke": "#000000", "strokeWidth": 3},
      "encoding": {
        "x": {"field": "s", "type": "nominal", "bandPosition": 0, "axis": null, "scale": {"paddingInner": 0, "paddingOuter": 0}},
        "color": {"field": "s", "type": "nominal", "scale": {"domain": ["Clases sociales I y II", "Clases sociales IV y V", "Hombres", "Mujeres", "Todos"], "range": ["#1a1a1a", "#474747", "#1a1a1a", "#a9a9a9", "#222222"]}, "legend": null}
      },
      "layer": [
        {"mark": {"type": "square", "size": 784, "filled": true, "opacity": 1, "xOffset": 42}},
        {"mark": {"type": "text", "align": "left", "baseline": "middle", "dx": 92, "fontSize": 38, "font": "Liberation Serif", "color": "#000000"}, "encoding": {"text": {"field": "s"}, "color": {"value": "#000000"}}}
      ]
    }
  ],
  "spacing": 28,
  "center": true,
  "resolve": {"scale": {"xOffset": "independent"}},
  "config": {
    "font": "Liberation Serif",
    "view": {"stroke": null},
    "title": {"font": "Liberation Serif", "fontSize": 39, "fontWeight": "normal", "color": "#000000", "lineHeight": 50, "offset": 54, "anchor": "middle", "frame": "group"},
    "axis": {"labelFont": "Liberation Serif", "titleFont": "Liberation Serif", "labelColor": "#000000", "titleColor": "#000000", "titleFontWeight": "normal", "titleFontSize": 39},
    "axisX": {"labelAngle": 0, "labelFontSize": 31, "ticks": false, "domainColor": "#000000", "domainWidth": 5, "labelPadding": 20, "titlePadding": 38, "grid": false, "labelOverlap": false},
    "axisY": {"labelFontSize": 35, "tickSize": 14, "tickWidth": 2, "tickColor": "#333333", "domainColor": "#333333", "domainWidth": 2, "grid": true, "gridColor": "#e6e6e6", "gridWidth": 2, "labelPadding": 8}
  }
}
